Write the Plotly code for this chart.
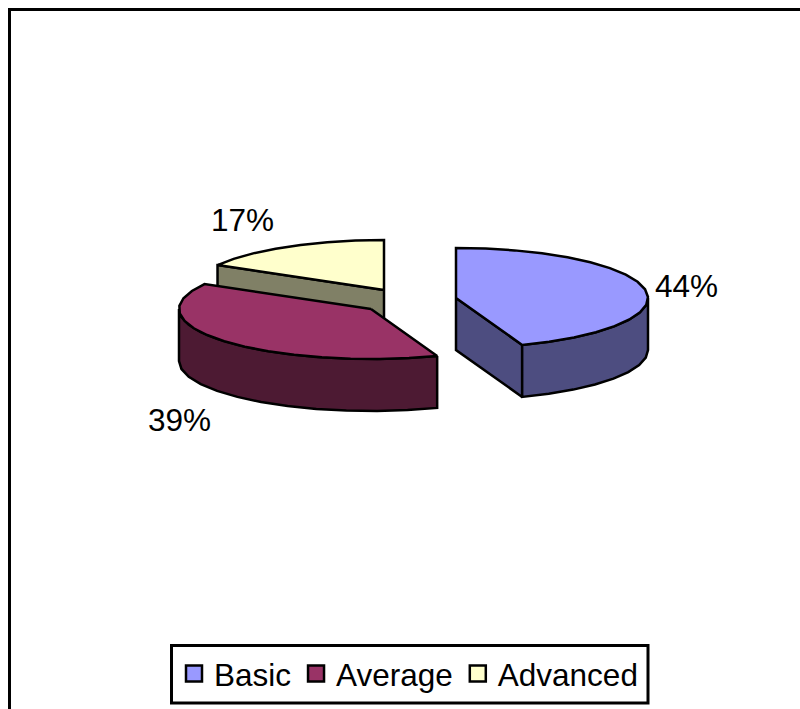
import math
import plotly.graph_objects as go

categories = ["Basic", "Average", "Advanced"]
values = [44.4, 38.9, 16.7]
top_colors = ["#9999FF", "#993366", "#FFFFCC"]
side_colors = ["#4D4D80", "#4D1A33", "#808066"]
centers = [(456, 298), (371, 309), (384, 290)]
label_texts = ["44%", "39%", "17%"]
label_pos = [(686, 286), (179, 420), (242, 220)]

RX, RY, DEPTH = 192, 50, 52
STEP = 9  # degrees per outline segment
LINE = dict(color="black", width=2.5)
FRAME = dict(color="black", width=3)
FONT = "Liberation Sans"
SIZE = 31.5


def pt(c, a, dz=0):
    r = math.radians(a)
    return c[0] + RX * math.sin(r), c[1] - RY * math.cos(r) + dz


def arc(c, a0, a1, dz=0):
    n = max(2, round((a1 - a0) / STEP))
    return [pt(c, a0 + (a1 - a0) * i / n, dz) for i in range(n + 1)]


def poly(points, color):
    xs = [p[0] for p in points] + [points[0][0]]
    ys = [p[1] for p in points] + [points[0][1]]
    return go.Scatter(x=xs, y=ys, mode="lines", fill="toself", fillcolor=color,
                      line=LINE, showlegend=False, hoverinfo="skip")


total = sum(values)
spans = []
a = 0.0
for v in values:
    spans.append((a, a + 360 * v / total))
    a += 360 * v / total

fig = go.Figure()
for i in [2, 1, 0]:
    a0, a1 = spans[i]
    c = centers[i]
    apex_low = (c[0], c[1] + DEPTH)
    # flat cut faces that look toward the viewer
    for ang, visible in ((a0, 180 < a0 < 360), (a1, 0 < a1 < 180)):
        if visible:
            r = pt(c, ang)
            fig.add_trace(poly([c, r, (r[0], r[1] + DEPTH), apex_low], side_colors[i]))
    # outer rim (front half only)
    lo, hi = max(a0, 90), min(a1, 270)
    if hi > lo:
        fig.add_trace(poly(arc(c, lo, hi) + arc(c, lo, hi, DEPTH)[::-1], side_colors[i]))
    # top face
    fig.add_trace(poly([c] + arc(c, a0, a1), top_colors[i]))

# legend keys
for name, col in zip(categories, top_colors):
    fig.add_trace(go.Scatter(x=[None], y=[None], mode="markers", name=name,
                             marker=dict(symbol="square", size=17, color=col,
                                         line=dict(color="black", width=2.5))))

for (x, y), t in zip(label_pos, label_texts):
    fig.add_annotation(x=x, y=y, text=t, showarrow=False,
                       font=dict(family=FONT, size=SIZE, color="black"))

fig.add_shape(type="line", x0=8, x1=800, y0=9.5, y1=9.5, line=FRAME)
fig.add_shape(type="line", x0=9.5, x1=9.5, y0=8, y1=709, line=FRAME)
# legend frame
fig.add_shape(type="rect", x0=171.5, x1=648, y0=645.5, y1=703, line=FRAME, fillcolor="white", layer="below")

fig.update_layout(
    width=800, height=709, margin=dict(l=0, r=0, t=0, b=0),
    paper_bgcolor="white", plot_bgcolor="white",
    xaxis=dict(range=[0, 800], visible=False, fixedrange=True),
    yaxis=dict(range=[709, 0], visible=False, fixedrange=True),
    font=dict(family=FONT, size=SIZE, color="black"),
    legend=dict(orientation="h", x=174 / 800, y=1 - 646.5 / 709, xanchor="left", yanchor="top",
                borderwidth=0, bgcolor="rgba(0,0,0,0)",
                itemwidth=30, font=dict(size=SIZE)),
)
fig.write_html("out.html", config={"displayModeBar": False},
               post_script="document.body.style.margin='0';")
